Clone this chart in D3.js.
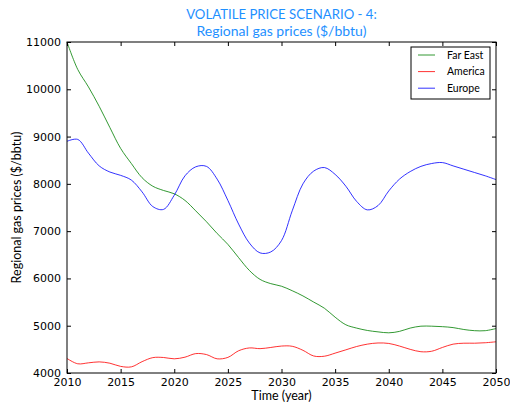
<!DOCTYPE html>
<html>
<head>
<meta charset="utf-8">
<script src="https://cdn.jsdelivr.net/npm/d3@7"></script>
<style>
  body { margin: 0; background: #fff; }
  svg { display: block; }
</style>
</head>
<body>
<svg width="510" height="404"></svg>
<script>
// years 2010..2050, one value per year
var years = d3.range(2010, 2051);

var farEast = [11000, 10420, 10050, 9640, 9190, 8750, 8430, 8130, 7950, 7860,
  7790, 7650, 7430, 7200, 6950, 6720, 6440, 6170, 5980, 5890,
  5835, 5740, 5630, 5500, 5370, 5180, 5020, 4950, 4900, 4870,
  4850, 4880, 4950, 4990, 4990, 4980, 4960, 4920, 4895, 4895, 4940];

var america = [4307, 4195, 4215, 4235, 4207, 4140, 4130, 4240, 4325, 4328,
  4300, 4335, 4410, 4390, 4300, 4330, 4470, 4530, 4515, 4540,
  4570, 4565, 4480, 4360, 4355, 4420, 4490, 4560, 4610, 4635,
  4625, 4570, 4500, 4450, 4460, 4540, 4610, 4630, 4630, 4640, 4660];

var europe = [8900, 8940, 8650, 8380, 8250, 8180, 8080, 7830, 7520, 7460,
  7760, 8170, 8360, 8370, 8100, 7650, 7150, 6750, 6540, 6560,
  6800, 7430, 8000, 8270, 8345, 8200, 7950, 7630, 7450, 7540,
  7850, 8100, 8260, 8370, 8430, 8450, 8380, 8310, 8240, 8170, 8090];

var seriesNames = ["Far East", "America", "Europe"];
var seriesColors = ["#008000", "#ff0000", "#0000ff"];
var xTicks = d3.range(2010, 2051, 5);
var yTicks = d3.range(4000, 11001, 1000);

var svg = d3.select("svg");
var plotL = 67, plotR = 496, plotT = 42, plotB = 373;

var x = d3.scaleLinear().domain([2010, 2050]).range([plotL, plotR]);
var y = d3.scaleLinear().domain([4000, 11000]).range([plotB, plotT]);

var labelFont = "Lato, 'Open Sans', sans-serif";

// title
svg.append("text")
  .attr("x", (plotL + plotR) / 2).attr("y", 19)
  .attr("text-anchor", "middle")
  .attr("font-family", labelFont).attr("font-size", 13.2)
  .attr("fill", "#1e90ff")
  .text("VOLATILE PRICE SCENARIO - 4:");
svg.append("text")
  .attr("x", (plotL + plotR) / 2).attr("y", 36)
  .attr("text-anchor", "middle")
  .attr("font-family", labelFont).attr("font-size", 14)
  .attr("fill", "#1e90ff")
  .text("Regional gas prices ($/bbtu)");

// lines
var line = d3.line()
  .x(function (d) { return x(d[0]); })
  .y(function (d) { return y(d[1]); })
  .curve(d3.curveCatmullRom.alpha(0.5));

var allSeries = [farEast, america, europe];
allSeries.forEach(function (vals, i) {
  var pts = years.map(function (yr, j) { return [yr, vals[j]]; });
  svg.append("path")
    .datum(pts)
    .attr("d", line)
    .attr("fill", "none")
    .attr("stroke", seriesColors[i])
    .attr("stroke-width", 1)
    .attr("opacity", 0.8);
});

// axes, ticks pointing inward, on all sides
var tickFont = "'DejaVu Sans', sans-serif";

var xAxis = svg.append("g")
  .attr("transform", "translate(0," + plotB + ")")
  .call(d3.axisBottom(x).tickValues(xTicks).tickFormat(d3.format("d")).tickSizeInner(-4).tickSizeOuter(0).tickPadding(6));
var xTop = svg.append("g")
  .attr("transform", "translate(0," + plotT + ")")
  .call(d3.axisTop(x).tickValues(xTicks).tickSizeInner(-4).tickSizeOuter(0).tickFormat(""));
var yAxis = svg.append("g")
  .attr("transform", "translate(" + plotL + ",0)")
  .call(d3.axisLeft(y).tickValues(yTicks).tickFormat(d3.format("d")).tickSizeInner(-4).tickSizeOuter(0).tickPadding(6));
var yRight = svg.append("g")
  .attr("transform", "translate(" + plotR + ",0)")
  .call(d3.axisRight(y).tickValues(yTicks).tickSizeInner(-4).tickSizeOuter(0).tickFormat(""));

[xAxis, xTop, yAxis, yRight].forEach(function (g) {
  g.select(".domain").remove();
  g.selectAll("line").attr("stroke", "#000");
  g.selectAll("text").attr("font-family", tickFont).attr("font-size", 11).attr("fill", "#000");
});
xAxis.selectAll("text").attr("dy", "0.6em");

svg.append("rect")
  .attr("x", plotL).attr("y", plotT)
  .attr("width", plotR - plotL).attr("height", plotB - plotT)
  .attr("fill", "none").attr("stroke", "#000").attr("stroke-width", 1);

// axis labels
svg.append("text")
  .attr("x", (plotL + plotR) / 2).attr("y", 400)
  .attr("text-anchor", "middle")
  .attr("font-family", labelFont).attr("font-size", 12.5)
  .text("Time (year)");
svg.append("text")
  .attr("transform", "translate(21," + (plotT + plotB) / 2 + ") rotate(-90)")
  .attr("text-anchor", "middle")
  .attr("font-family", labelFont).attr("font-size", 12.5)
  .text("Regional gas prices ($/bbtu)");

// legend
var lg = svg.append("g");
lg.append("rect")
  .attr("x", 411).attr("y", 47).attr("width", 79).attr("height", 52)
  .attr("fill", "#fff").attr("stroke", "#000").attr("stroke-width", 1);
seriesNames.forEach(function (name, i) {
  var ly = 55 + i * 16.6;
  lg.append("line")
    .attr("x1", 418).attr("x2", 435).attr("y1", ly).attr("y2", ly)
    .attr("stroke", seriesColors[i]).attr("stroke-width", 1).attr("opacity", 0.8);
  lg.append("text")
    .attr("x", 447).attr("y", ly).attr("dy", "0.35em")
    .attr("font-family", labelFont).attr("font-size", 10.5)
    .text(name);
});
</script>
</body>
</html>
